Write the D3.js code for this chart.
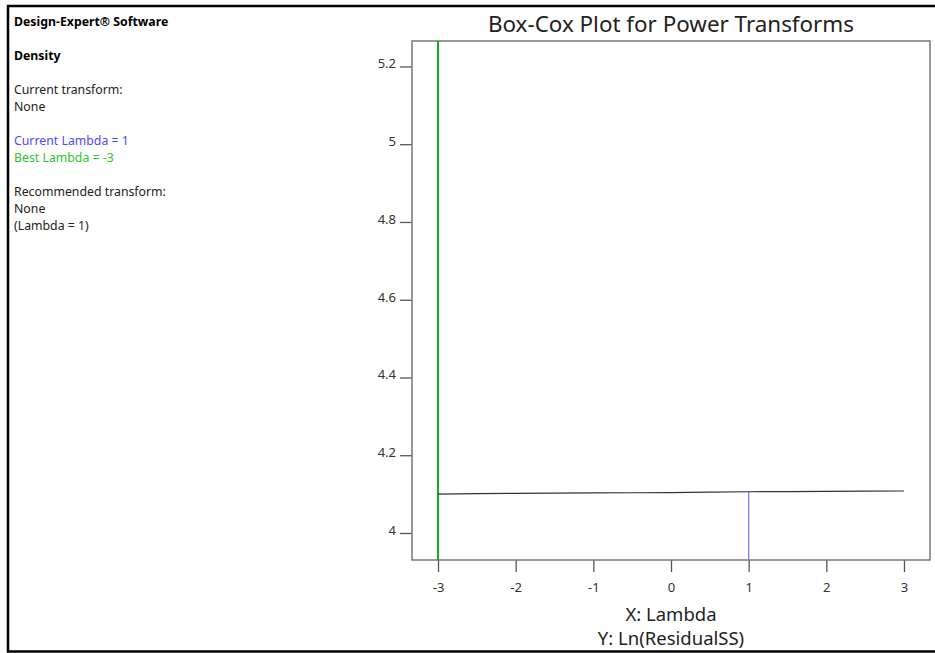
<!DOCTYPE html>
<html>
<head>
<meta charset="utf-8">
<script src="https://cdn.jsdelivr.net/npm/d3@7"></script>
<style>
  body { margin: 0; background: #fff; }
  svg { display: block; }
  .info { font-family: "Noto Sans", sans-serif; font-size: 12.3px; fill: #222; }
  .tick text { font-family: "Noto Sans", sans-serif; font-size: 13px; fill: #333; }
</style>
</head>
<body>
<svg></svg>
<script>
var width = 935;
var height = 653;

// Box-Cox curve: lambda vs ln(residual SS)
var lambdas = [-3, -2.5, -2, -1.5, -1, -0.5, 0, 0.5, 1, 1.5, 2, 2.5, 3];
var lnResidualSS = [4.100, 4.101, 4.102, 4.1025, 4.103, 4.1035, 4.104, 4.105, 4.106, 4.1065, 4.107, 4.1075, 4.108];
var currentLambda = 1;
var bestLambda = -3;
var xTicks = [-3, -2, -1, 0, 1, 2, 3];
var yTicks = [4, 4.2, 4.4, 4.6, 4.8, 5, 5.2];

var infoLines = [
  { text: "Design-Expert\u00ae Software", bold: true, color: "#000" },
  { text: "", gap: true },
  { text: "Density", bold: true, color: "#000" },
  { text: "", gap: true },
  { text: "Current transform:", color: "#222" },
  { text: "None", color: "#222" },
  { text: "", gap: true },
  { text: "Current Lambda = 1", color: "#4a4aff" },
  { text: "Best Lambda = -3", color: "#2ec42e" },
  { text: "", gap: true },
  { text: "Recommended transform:", color: "#222" },
  { text: "None", color: "#222" },
  { text: "(Lambda = 1)", color: "#222" }
];

var plot = { left: 412, top: 41, right: 930, bottom: 560 };

var svg = d3.select("svg")
  .attr("width", width)
  .attr("height", height);

// outer frame (top, left, bottom)
svg.append("path")
  .attr("d", "M935,6H8V651.5H935")
  .attr("fill", "none")
  .attr("stroke", "#000")
  .attr("stroke-width", 2.5);

// info panel
var lineY = 26;
var infoStep = 17;
var info = svg.append("g").attr("class", "info");
infoLines.forEach(function(l) {
  if (!l.gap) {
    info.append("text")
      .attr("x", 14)
      .attr("y", lineY)
      .attr("font-weight", l.bold ? "bold" : "normal")
      .attr("fill", l.color)
      .text(l.text);
  }
  lineY += infoStep;
});

var xScale = d3.scaleLinear()
  .domain([-3.335, 3.335])
  .range([plot.left, plot.right]);

var yScale = d3.scaleLinear()
  .domain([3.9305, 5.2655])
  .range([plot.bottom, plot.top]);

// title
svg.append("text")
  .attr("x", (plot.left + plot.right) / 2)
  .attr("y", 32)
  .attr("text-anchor", "middle")
  .attr("font-family", "Noto Sans, sans-serif")
  .attr("font-size", 22.4)
  .attr("fill", "#222")
  .text("Box-Cox Plot for Power Transforms");

// axes
var xAxis = svg.append("g")
  .attr("transform", "translate(0," + plot.bottom + ")")
  .call(d3.axisBottom(xScale).tickValues(xTicks).tickSize(12).tickPadding(11).tickFormat(function(d) { return String(d); }));

var yAxis = svg.append("g")
  .attr("transform", "translate(" + plot.left + ",0)")
  .call(d3.axisLeft(yScale).tickValues(yTicks).tickSize(12).tickPadding(4).tickFormat(function(d) { return String(+d.toFixed(1)); }));

[xAxis, yAxis].forEach(function(a) {
  a.select(".domain").remove();
  a.selectAll(".tick line").attr("stroke", "#555").attr("stroke-width", 1.3);
});
yAxis.selectAll(".tick text").attr("dy", "0.1em");

// plot frame
svg.append("rect")
  .attr("x", plot.left)
  .attr("y", plot.top)
  .attr("width", plot.right - plot.left)
  .attr("height", plot.bottom - plot.top)
  .attr("fill", "none")
  .attr("stroke", "#777")
  .attr("stroke-width", 1.5);

// best lambda line
svg.append("line")
  .attr("x1", xScale(bestLambda))
  .attr("x2", xScale(bestLambda))
  .attr("y1", plot.top)
  .attr("y2", plot.bottom)
  .attr("stroke", "#1aaa1a")
  .attr("stroke-width", 2);

// current lambda line
var curIdx = lambdas.indexOf(currentLambda);
svg.append("line")
  .attr("x1", xScale(currentLambda))
  .attr("x2", xScale(currentLambda))
  .attr("y1", yScale(lnResidualSS[curIdx]))
  .attr("y2", plot.bottom)
  .attr("stroke", "#7070ff")
  .attr("stroke-width", 1.2);

// curve
var line = d3.line()
  .x(function(d, i) { return xScale(lambdas[i]); })
  .y(function(d) { return yScale(d); });

svg.append("path")
  .datum(lnResidualSS)
  .attr("d", line)
  .attr("fill", "none")
  .attr("stroke", "#333")
  .attr("stroke-width", 1.2);

// axis titles
svg.append("text")
  .attr("x", (plot.left + plot.right) / 2)
  .attr("y", 621)
  .attr("text-anchor", "middle")
  .attr("font-family", "Noto Sans, sans-serif")
  .attr("font-size", 18.5)
  .attr("fill", "#222")
  .text("X: Lambda");

svg.append("text")
  .attr("x", (plot.left + plot.right) / 2)
  .attr("y", 645)
  .attr("text-anchor", "middle")
  .attr("font-family", "Noto Sans, sans-serif")
  .attr("font-size", 18.5)
  .attr("fill", "#222")
  .text("Y: Ln(ResidualSS)");
</script>
</body>
</html>
